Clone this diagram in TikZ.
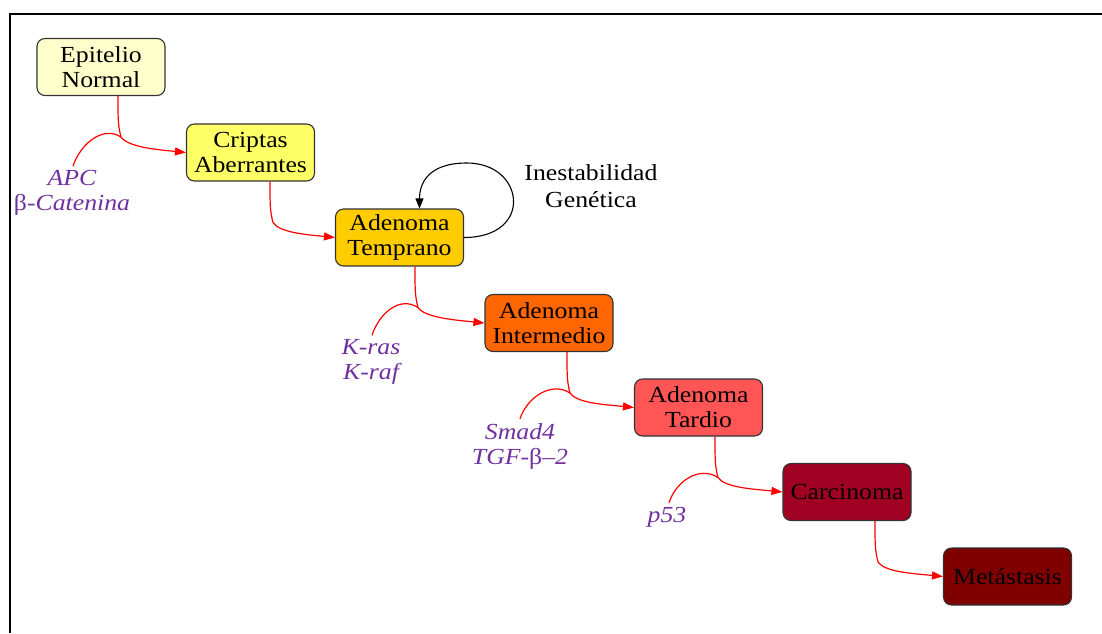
\documentclass[tikz,border=0pt]{standalone}
\usepackage{fontspec}
\setmainfont{Liberation Serif}
\usepackage{graphicx}
\usetikzlibrary{arrows.meta,calc}
\definecolor{cA}{HTML}{FFFFCC}
\definecolor{cB}{HTML}{FFFF66}
\definecolor{cC}{HTML}{FFCC00}
\definecolor{cD}{HTML}{FF6600}
\definecolor{cE}{HTML}{FF5555}
\definecolor{cF}{HTML}{A00022}
\definecolor{cG}{HTML}{800000}
\definecolor{nodeborder}{HTML}{333333}
\definecolor{genepurple}{RGB}{112,48,160}
\newcommand{\hs}[1]{\scalebox{1.12}[1]{#1}}
\begin{document}
\begin{tikzpicture}[x=1pt,y=1pt,
  stage/.style={draw=nodeborder, line width=1.1pt, rounded corners=8pt,
    minimum width=128pt, minimum height=57pt, align=center, inner sep=0pt,
    font=\fontsize{23}{25}\selectfont},
  gene/.style={text=genepurple, align=center, inner sep=0pt,
    font=\fontsize{23}{25}\selectfont\itshape},
  note/.style={text=black, align=center, inner sep=0pt,
    font=\fontsize{23}{27}\selectfont},
  flow/.style={draw=red, line width=1.2pt, -{Triangle[length=11pt,width=8pt]}},
  feed/.style={draw=red, line width=1.2pt},
  loopy/.style={draw=black, line width=1.1pt, -{Triangle[length=10pt,width=8pt]}},
  frame/.style={draw=black, line width=2.5pt}
]
\useasboundingbox (0,0) rectangle (1102,-633);
\draw[frame] (10.2,-633) -- (10.2,-14) -- (1102,-14);

\node[stage, fill=cA] (n1) at (101,-67)     {\hs{Epitelio}\\\hs{Normal}};
\node[stage, fill=cB] (n2) at (250.5,-152.5) {\hs{Criptas}\\\hs{Aberrantes}};
\node[stage, fill=cC] (n3) at (399.5,-237.5) {\hs{Adenoma}\\\hs{Temprano}};
\node[stage, fill=cD] (n4) at (549,-323)     {\hs{Adenoma}\\\hs{Intermedio}};
\node[stage, fill=cE] (n5) at (698.5,-407.5) {\hs{Adenoma}\\\hs{Tardio}};
\node[stage, fill=cF] (n6) at (847,-492)     {\hs{Carcinoma}};
\node[stage, fill=cG] (n7) at (1007.5,-576.5) {\hs{Metástasis}};

\node[gene] (g1) at (72,-193)  {\hs{APC}\\\hs{{\upshape β}-Catenina}};
\node[gene] (g3) at (371,-362) {\hs{K-ras}\\\hs{K-raf}};
\node[gene] (g4) at (520,-446) {\hs{Smad4}\\\hs{TGF-{\upshape β}–2}};
\node[gene] (g5) at (667,-517) {\hs{p53}};
\node[note] (ins) at (591,-186) {\hs{Inestabilidad}\\\hs{Genética}};

% start points of the flows
\coordinate (s1) at ($(n1.south)+(17,0)$);
\coordinate (s2) at ($(n2.south)+(19.5,0)$);
\coordinate (s3) at ($(n3.south)+(15.5,0)$);
\coordinate (s4) at ($(n4.south)+(18,0)$);
\coordinate (s5) at ($(n5.south)+(16.5,0)$);
\coordinate (s6) at ($(n6.south)+(28,0)$);
% junctions
\foreach \i in {1,...,6} {\coordinate (j\i) at ($(s\i)+(3,-41)$);}
% branch starts near the gene labels
\coordinate (L1) at ($(g1.north)+(1,4)$);
\coordinate (L3) at ($(g3.north)+(1,4)$);
\coordinate (L4) at ($(g4.north)+(0,4)$);
\coordinate (L5) at ($(g5.north)+(2,4)$);

\draw[flow] (s1) .. controls ($(s1)+(0,-24)$) and ($(j1)+(-3,12)$) .. (j1)
  .. controls ($(j1)+(7,-10)$) and ($(n2.west)+(-30,3)$) .. (n2.west);
\draw[flow] (s2) .. controls ($(s2)+(0,-24)$) and ($(j2)+(-3,12)$) .. (j2)
  .. controls ($(j2)+(7,-10)$) and ($(n3.west)+(-30,3)$) .. (n3.west);
\draw[flow] (s3) .. controls ($(s3)+(0,-24)$) and ($(j3)+(-3,12)$) .. (j3)
  .. controls ($(j3)+(7,-10)$) and ($(n4.west)+(-30,3)$) .. (n4.west);
\draw[flow] (s4) .. controls ($(s4)+(0,-24)$) and ($(j4)+(-3,12)$) .. (j4)
  .. controls ($(j4)+(7,-10)$) and ($(n5.west)+(-30,3)$) .. (n5.west);
\draw[flow] (s5) .. controls ($(s5)+(0,-24)$) and ($(j5)+(-3,12)$) .. (j5)
  .. controls ($(j5)+(7,-10)$) and ($(n6.west)+(-30,3)$) .. (n6.west);
\draw[flow] (s6) .. controls ($(s6)+(0,-24)$) and ($(j6)+(-3,12)$) .. (j6)
  .. controls ($(j6)+(7,-10)$) and ($(n7.west)+(-30,3)$) .. (n7.west);

\draw[feed] (L1) .. controls ($(L1)+(7,22)$) and ($(j1)+(-18,12)$) .. (j1);
\draw[feed] (L3) .. controls ($(L3)+(7,22)$) and ($(j3)+(-18,12)$) .. (j3);
\draw[feed] (L4) .. controls ($(L4)+(7,22)$) and ($(j4)+(-18,12)$) .. (j4);
\draw[feed] (L5) .. controls ($(L5)+(7,22)$) and ($(j5)+(-18,12)$) .. (j5);

% self loop
\draw[loopy] (n3.east) .. controls ($(n3.east)+(70,0)$) and (525,-163) .. (467,-163)
  .. controls (428,-163) and ($(n3.north)+(20,25)$) .. ($(n3.north)+(20,0)$);
\end{tikzpicture}
\end{document}
